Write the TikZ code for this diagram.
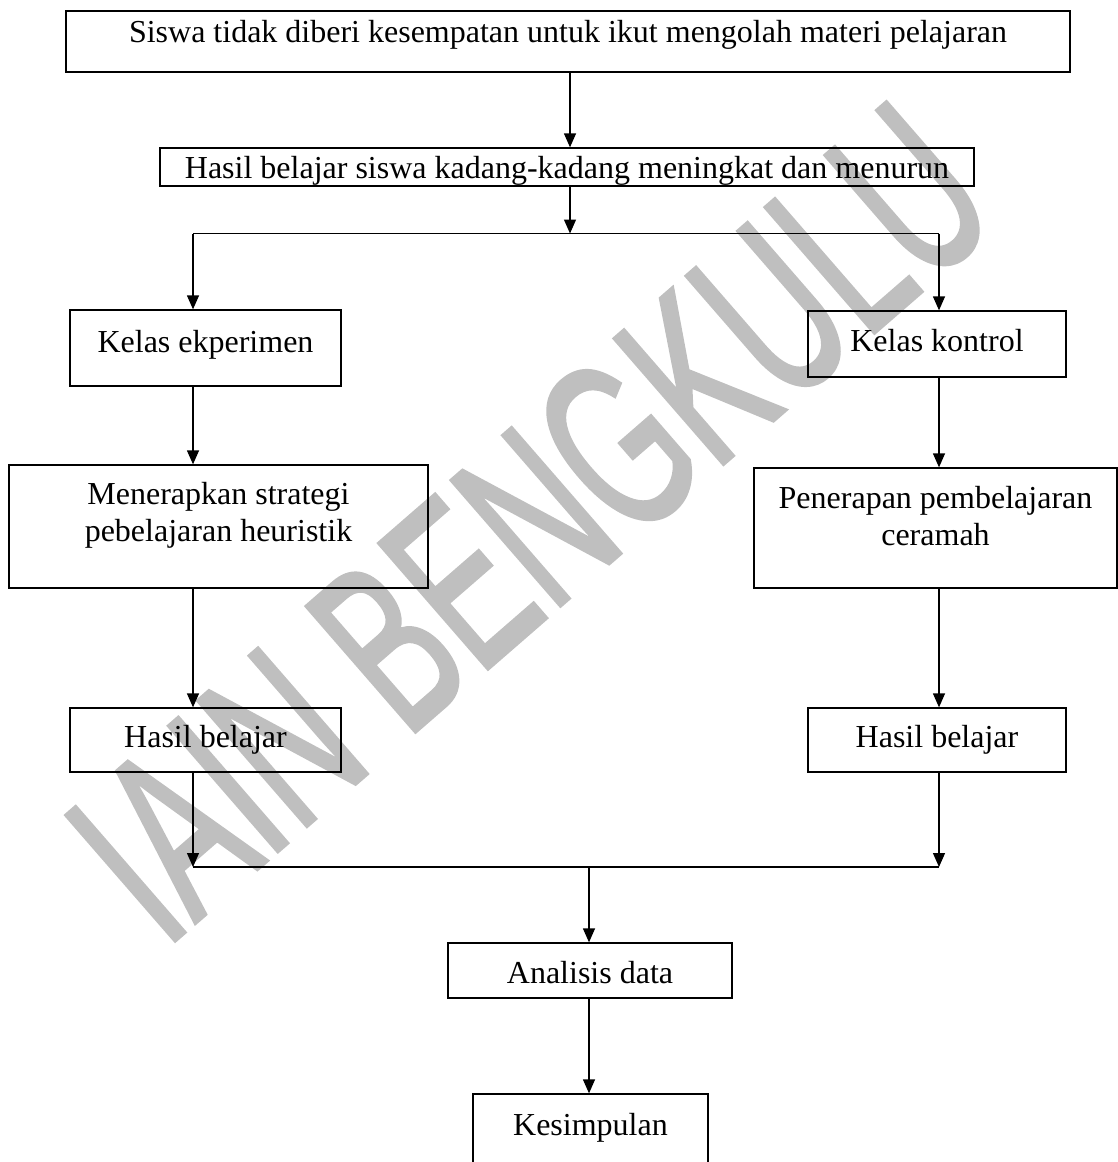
\documentclass[tikz,border=0pt]{standalone}
\usepackage{fontspec}
\setmainfont{Liberation Serif}
\newfontfamily\wmfont[FakeBold=2]{Liberation Sans}
\usetikzlibrary{arrows.meta}
\begin{document}
\begin{tikzpicture}[x=1pt,y=-1pt,
  font=\fontsize{32}{37.5}\selectfont,
  box/.style={draw, line width=1.3pt, inner sep=0pt, text height=22pt},
  arr/.style={-{Triangle[length=14pt,width=12pt]}, line width=1.3pt},
  ln/.style={line width=1.3pt},
  wm/.style={font=\wmfont\fontsize{240}{240}\selectfont, text=black!25, rotate=41, xscale=0.6, inner sep=0pt}]
\useasboundingbox (0,0) rectangle (1118,1162);
\clip (0,0) rectangle (1118,1162);
% watermark
\node[wm] (wmark) at (530,522) {IAIN BENGKULU};
% boxes
\node[box, minimum width=1004pt, minimum height=61pt, text depth=20pt] (top) at (568,41.5)
  {Siswa tidak diberi kesempatan untuk ikut mengolah materi pelajaran};
\node[box, minimum width=814pt, minimum height=38pt, text depth=0pt] (hb) at (567,167)
  {Hasil belajar siswa kadang-kadang meningkat dan menurun};
\node[box, minimum width=271pt, minimum height=76pt, text depth=14pt] (ke) at (205.5,348) {Kelas ekperimen};
\node[box, minimum width=258pt, minimum height=66pt, text depth=8pt] (kk) at (937,344) {Kelas kontrol};
\node[box, minimum width=419pt, minimum height=123pt, text depth=67pt] (me) at (218.5,526.5)
  {\begin{tabular}[t]{@{}c@{}}Menerapkan strategi\\pebelajaran heuristik\end{tabular}};
\node[box, minimum width=363pt, minimum height=120pt, text depth=62pt] (pe) at (935.5,528)
  {\begin{tabular}[t]{@{}c@{}}Penerapan pembelajaran\\ceramah\end{tabular}};
\node[box, minimum width=271pt, minimum height=64pt, text depth=8pt] (hl) at (205.5,740) {Hasil belajar};
\node[box, minimum width=258pt, minimum height=64pt, text depth=8pt] (hr) at (937,740) {Hasil belajar};
\node[box, minimum width=284pt, minimum height=55pt, text height=25pt, text depth=0pt] (an) at (590,970.5) {Analisis data};
\node[box, minimum width=235pt, minimum height=106pt, text depth=46pt] (ks) at (590.5,1147) {Kesimpulan};
% junctions
\coordinate (split) at (570,233.5);
\coordinate (sl) at (193,233.5);
\coordinate (sr) at (939,233.5);
\coordinate (ml) at (193,867);
\coordinate (mr) at (939,867);
\coordinate (mc) at (589,867);
% connectors
\draw[arr] (top.south -| split) -- (hb.north -| split);
\draw[arr] (hb.south -| split) -- (split);
\draw[ln] (sl) -- (sr);
\draw[arr] (sl) -- (sl |- ke.north);
\draw[arr] (sr) -- (sr |- kk.north);
\draw[arr] (sl |- ke.south) -- (sl |- me.north);
\draw[arr] (sr |- kk.south) -- (sr |- pe.north);
\draw[arr] (sl |- me.south) -- (sl |- hl.north);
\draw[arr] (sr |- pe.south) -- (sr |- hr.north);
\draw[arr] (sl |- hl.south) -- (ml);
\draw[arr] (sr |- hr.south) -- (mr);
\draw[ln] (ml) -- (mr);
\draw[arr] (mc) -- (mc |- an.north);
\draw[arr] (an.south -| mc) -- (ks.north -| mc);
\end{tikzpicture}
\end{document}
